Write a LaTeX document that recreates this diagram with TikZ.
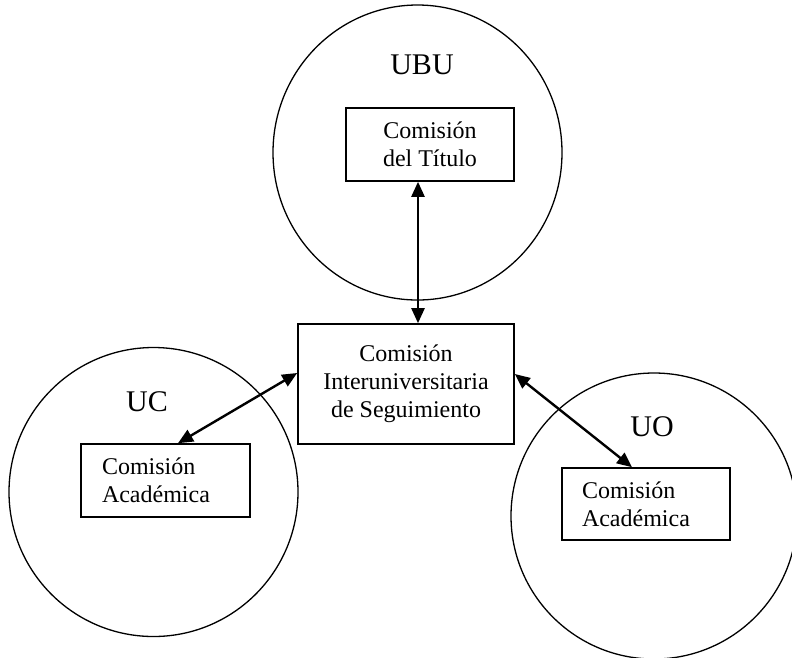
\documentclass[tikz,border=0pt]{standalone}
\usepackage{fontspec}
\setmainfont{Liberation Serif}
\usetikzlibrary{arrows.meta,shapes.geometric}
\begin{document}
\begin{tikzpicture}[x=1pt,y=-1pt,
  unicircle/.style={draw, line width=1.3pt, inner sep=0pt},
  box/.style={draw, line width=1.6pt, font=\fontsize{24}{28}\selectfont, inner sep=0pt},
  sidebox/.style={box, align=left, inner xsep=21pt, text width=127pt, minimum height=73pt},
  unilabel/.style={font=\fontsize{30}{34}\selectfont, inner sep=0pt},
  link/.style={line width=2.4pt, {Triangle[length=15pt,width=13pt]}-{Triangle[length=15pt,width=13pt]}}]
\useasboundingbox (0,0) rectangle (792,657);
% circles
\node[unicircle, ellipse, minimum width=289pt, minimum height=295pt] (ubu) at (417.5,152.5) {};
\node[unicircle, circle, minimum size=289pt] (uc) at (153.5,492) {};
\node[unicircle, circle, minimum size=286pt] (uo) at (654,516) {};
% labels
\node[unilabel] (ubulabel) at (422,65) {UBU};
\node[unilabel] (uclabel) at (147,402) {UC};
\node[unilabel] (uolabel) at (652,427) {UO};
% boxes
\node[box, align=center, minimum width=168pt, minimum height=73pt] (topbox) at (430,144.5) {Comisión\\del Título};
\node[box, align=center, minimum width=216pt, minimum height=120pt] (central) at (406,384) {Comisión\\Interuniversitaria\\de Seguimiento};
\node[sidebox] (leftbox) at (165.5,480.5) {Comisión\\Académica};
\node[sidebox, inner xsep=20pt, text width=128pt, minimum height=72pt] (rightbox) at (646,504) {Comisión\\Académica};
% connectors
\draw[link] ([xshift=-12pt]topbox.south) -- ([xshift=12pt]central.north);
\draw[link] ([yshift=11pt]central.west) -- ([xshift=12.5pt]leftbox.north);
\draw[link] ([yshift=10pt]central.east) -- ([xshift=-14pt]rightbox.north);
\end{tikzpicture}
\end{document}
